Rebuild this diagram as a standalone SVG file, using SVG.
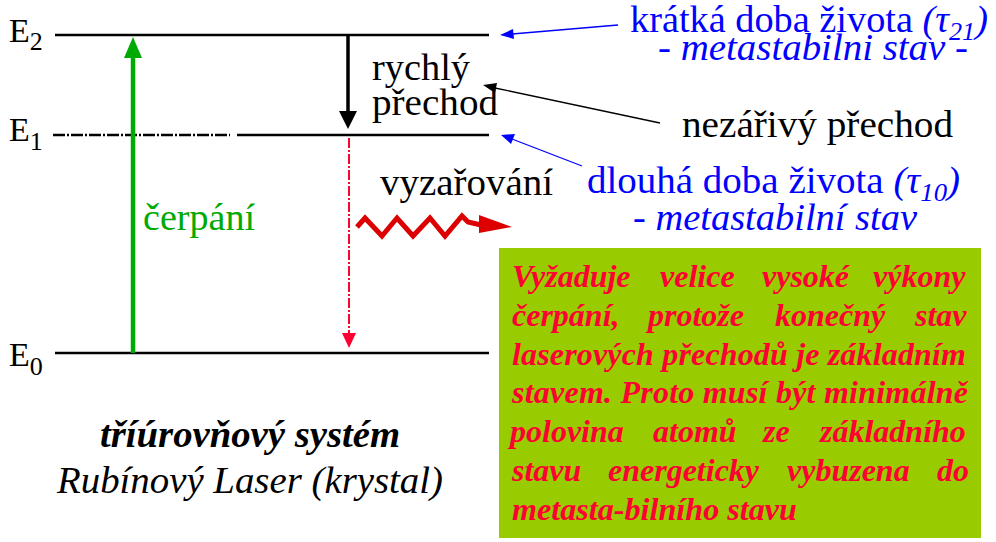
<svg xmlns="http://www.w3.org/2000/svg" width="996" height="542" viewBox="0 0 996 542">
<rect width="996" height="542" fill="#fff"/>
<g id="levels" stroke="#000" stroke-width="2.5" fill="none">
<line id="level-E2" x1="55" y1="35" x2="489" y2="35"/>
<line x1="53" y1="135" x2="230" y2="135" stroke-dasharray="12 2 2 2"/>
<line id="level-E1" x1="237" y1="135" x2="489" y2="135"/>
<line id="level-E0" x1="55" y1="353" x2="489" y2="353"/>
</g>
<text x="9" y="42" font-size="34" font-family="Liberation Serif">E<tspan font-size="26" dy="8">2</tspan></text>
<text x="9" y="141" font-size="34" font-family="Liberation Serif">E<tspan font-size="26" dy="9">1</tspan></text>
<text x="9" y="366" font-size="34" font-family="Liberation Serif">E<tspan font-size="26" dy="9">0</tspan></text>
<g id="connectors">
<line x1="133" y1="353" x2="133" y2="55" stroke="#00AA00" stroke-width="4.5"/>
<polygon points="124,58 142,58 133,37" fill="#00AA00"/>
<line x1="348" y1="35" x2="348" y2="113" stroke="#000" stroke-width="3.5"/>
<polygon points="339,111 357,111 348,129" fill="#000"/>
<line x1="349" y1="138" x2="349" y2="336" stroke="#FF0033" stroke-width="2" stroke-dasharray="10 2 2 2"/>
<polygon points="342,333 356,333 349,348" fill="#FF0033"/>
<polyline points="357,227 365,218 382,236 397,218 413,236 430,218 445,236 462,216 468,222 481,225" fill="none" stroke="#DD0000" stroke-width="5"/>
<polygon points="479,215 512,227 479,233" fill="#DD0000"/>
<line x1="618" y1="25" x2="512" y2="34" stroke="#0000FF" stroke-width="1.3"/>
<polygon points="500,35 513,29 514,39" fill="#0000FF"/>
<line x1="660" y1="123" x2="495" y2="88" stroke="#000" stroke-width="1.3"/>
<polygon points="483,85 497,83 495,93" fill="#000"/>
<line x1="582" y1="166" x2="512" y2="139" stroke="#0000FF" stroke-width="1.3"/>
<polygon points="501,135 515,134 511,144" fill="#0000FF"/>
</g>
<text x="143" y="230" font-size="38" font-family="Liberation Serif" fill="#00AA00" textLength="112" lengthAdjust="spacingAndGlyphs">čerpání</text>
<text x="372" y="80" font-size="38" font-family="Liberation Serif" textLength="98" lengthAdjust="spacingAndGlyphs">rychlý</text>
<text x="372" y="115" font-size="38" font-family="Liberation Serif" textLength="126" lengthAdjust="spacingAndGlyphs">přechod</text>
<text x="380" y="195" font-size="38" font-family="Liberation Serif" textLength="173" lengthAdjust="spacingAndGlyphs">vyzařování</text>
<text x="682" y="137" font-size="38" font-family="Liberation Serif" textLength="271" lengthAdjust="spacingAndGlyphs">nezářivý přechod</text>
<text x="630" y="32" font-size="38" font-family="Liberation Serif" fill="#0000FF" textLength="358" lengthAdjust="spacingAndGlyphs">krátká doba života <tspan font-style="italic">(τ</tspan><tspan font-style="italic" font-size="26" dy="8">21</tspan><tspan font-style="italic" dy="-8">)</tspan></text>
<text x="813" y="60" font-size="38" font-family="Liberation Serif" fill="#0000FF" font-style="italic" text-anchor="middle" textLength="310" lengthAdjust="spacingAndGlyphs">- metastabilni stav -</text>
<text x="587" y="193" font-size="38" font-family="Liberation Serif" fill="#0000FF" textLength="373" lengthAdjust="spacingAndGlyphs">dlouhá doba života <tspan font-style="italic">(τ</tspan><tspan font-style="italic" font-size="26" dy="8">10</tspan><tspan font-style="italic" dy="-8">)</tspan></text>
<text x="775" y="230" font-size="38" font-family="Liberation Serif" fill="#0000FF" font-style="italic" text-anchor="middle" textLength="284" lengthAdjust="spacingAndGlyphs">- metastabilní stav</text>
<text x="250" y="447" font-size="38" font-family="Liberation Serif" font-weight="bold" font-style="italic" text-anchor="middle" textLength="300" lengthAdjust="spacingAndGlyphs">tříúrovňový systém</text>
<text x="250" y="493" font-size="38" font-family="Liberation Serif" font-style="italic" text-anchor="middle" textLength="386" lengthAdjust="spacingAndGlyphs">Rubínový Laser (krystal)</text>
<g id="note-box">
<rect x="499" y="248" width="482" height="290" fill="#99CC00"/>
<text y="287" font-size="32" font-family="Liberation Serif" font-weight="bold" font-style="italic" fill="#FF0033"><tspan x="512">Vyžaduje</tspan><tspan x="660">velice</tspan><tspan x="762">vysoké</tspan><tspan x="873">výkony</tspan></text>
<text y="326" font-size="32" font-family="Liberation Serif" font-weight="bold" font-style="italic" fill="#FF0033"><tspan x="512">čerpání,</tspan><tspan x="648">protože</tspan><tspan x="775">konečný</tspan><tspan x="915">stav</tspan></text>
<text x="512" y="365" font-size="32" font-family="Liberation Serif" font-weight="bold" font-style="italic" fill="#FF0033" textLength="454" lengthAdjust="spacing">laserových přechodů je základním</text>
<text x="512" y="403" font-size="32" font-family="Liberation Serif" font-weight="bold" font-style="italic" fill="#FF0033" textLength="456" lengthAdjust="spacing">stavem. Proto musí být minimálně</text>
<text y="442" font-size="32" font-family="Liberation Serif" font-weight="bold" font-style="italic" fill="#FF0033"><tspan x="510">polovina</tspan><tspan x="653">atomů</tspan><tspan x="763">ze</tspan><tspan x="820">základního</tspan></text>
<text y="481" font-size="32" font-family="Liberation Serif" font-weight="bold" font-style="italic" fill="#FF0033"><tspan x="512">stavu</tspan><tspan x="608">energeticky</tspan><tspan x="787">vybuzena</tspan><tspan x="937">do</tspan></text>
<text x="512" y="520" font-size="32" font-family="Liberation Serif" font-weight="bold" font-style="italic" fill="#FF0033" textLength="285" lengthAdjust="spacingAndGlyphs">metasta-bilního stavu</text>
</g>
</svg>
